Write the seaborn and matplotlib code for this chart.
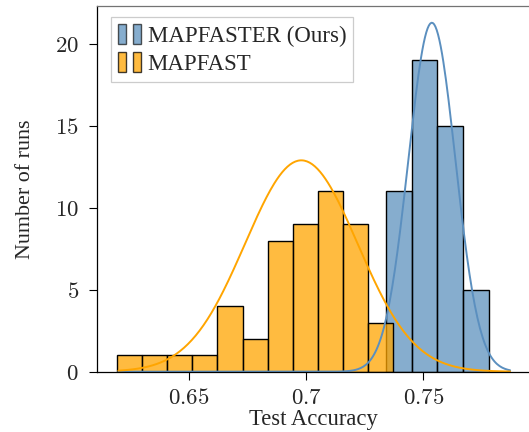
import matplotlib
matplotlib.use("Agg")
import numpy as np
import pandas as pd
import seaborn as sns
import matplotlib.pyplot as plt
from matplotlib.patches import Rectangle
from matplotlib.legend_handler import HandlerTuple
from matplotlib.ticker import FuncFormatter

# ----------------------------------------------------------
# Data (bin centres / number of runs)
# ----------------------------------------------------------
fast_acc = [0.6248, 0.6355, 0.6462, 0.6569, 0.6676, 0.6783,
            0.6890, 0.6997, 0.7104, 0.7211, 0.7318]
fast_runs = [1, 1, 1, 1, 4, 2, 8, 9, 11, 9, 3]
fast_range = (0.6194, 0.7372)

faster_acc = [0.7396, 0.7506, 0.7615, 0.7725]
faster_runs = [11, 19, 15, 5]
faster_range = (0.7341, 0.7779)

# peak height of the fitted curves, as drawn in the chart
fast_peak = 12.9
faster_peak = 21.3
curve_span = (0.62, 0.787)

labels = ["MAPFASTER (Ours)", "MAPFAST"]
blue = "steelblue"
orange = "orange"

# ----------------------------------------------------------
# Style
# ----------------------------------------------------------
sns.set_style("ticks")
plt.rcParams["font.family"] = ["Liberation Serif", "DejaVu Serif"]
plt.rcParams["mathtext.fontset"] = "cm"
plt.rcParams["xtick.direction"] = "out"
plt.rcParams["ytick.direction"] = "out"

fig = plt.figure(figsize=(5.29, 4.32), dpi=100)
ax = fig.add_axes([0.183, 0.1396, 0.819, 0.8465])

df_fast = pd.DataFrame({"acc": fast_acc, "runs": fast_runs})
df_faster = pd.DataFrame({"acc": faster_acc, "runs": faster_runs})

sns.histplot(data=df_faster, x="acc", weights="runs", bins=len(faster_acc),
             binrange=faster_range, color=blue, alpha=0.65,
             edgecolor="black", linewidth=1.0, ax=ax)
sns.histplot(data=df_fast, x="acc", weights="runs", bins=len(fast_acc),
             binrange=fast_range, color=orange, alpha=0.75,
             edgecolor="black", linewidth=1.0, ax=ax)


# normal fit on each series, drawn as a line
def fit_curve(acc, runs, peak):
    acc = np.asarray(acc)
    w = np.asarray(runs, dtype=float)
    mu = np.average(acc, weights=w)
    sd = np.sqrt(np.average((acc - mu) ** 2, weights=w))
    xs = np.linspace(curve_span[0], curve_span[1], 300)
    return pd.DataFrame({"acc": xs, "runs": peak * np.exp(-0.5 * ((xs - mu) / sd) ** 2)})


sns.lineplot(data=fit_curve(faster_acc, faster_runs, faster_peak), x="acc", y="runs",
             color="#5b8fbf", linewidth=1.4, ax=ax)
sns.lineplot(data=fit_curve(fast_acc, fast_runs, fast_peak), x="acc", y="runs",
             color="#ffa500", linewidth=1.4, ax=ax)

ax.set_xlim(0.6108, 0.7955)
ax.set_ylim(0, 22.32)
ax.set_xticks([0.65, 0.7, 0.75])
ax.set_yticks([0, 5, 10, 15, 20])
ax.xaxis.set_major_formatter(FuncFormatter(lambda v, p: f"${v:g}$"))
ax.yaxis.set_major_formatter(FuncFormatter(lambda v, p: f"${v:g}$"))
ax.tick_params(labelsize=16.5, length=6, width=0.8, color="black")
ax.tick_params(axis="x", pad=5.5)
ax.tick_params(axis="y", pad=7)
for s in ["left", "bottom"]:
    ax.spines[s].set_color("black")
    ax.spines[s].set_linewidth(0.9)
ax.spines["top"].set_visible(True)
ax.spines["top"].set_color("0.45")
ax.spines["top"].set_linewidth(0.9)
ax.spines["right"].set_visible(False)

ax.set_xlabel("Test Accuracy", fontsize=16.3, labelpad=0.5)
ax.set_ylabel("Number of runs", fontsize=15.8, labelpad=14)

# legend with two small boxes per entry
def boxes(c, a):
    return (Rectangle((0, 0), 1, 1, facecolor=c, alpha=a, edgecolor="black", linewidth=1.0),
            Rectangle((0, 0), 1, 1, facecolor=c, alpha=a, edgecolor="black", linewidth=1.0))


leg = ax.legend([boxes(blue, 0.65), boxes(orange, 0.75)], labels,
                handler_map={tuple: HandlerTuple(ndivide=None, pad=0.3)},
                loc="upper left", bbox_to_anchor=(0.033, 0.970), borderaxespad=0,
                fontsize=16.5, handlelength=1.0, handleheight=1.0,
                handletextpad=0.3, labelspacing=0.2, borderpad=0.3,
                fancybox=False, framealpha=1, edgecolor="0.8")
leg.get_frame().set_linewidth(0.9)

plt.savefig("out.png", dpi=100)
plt.close()
